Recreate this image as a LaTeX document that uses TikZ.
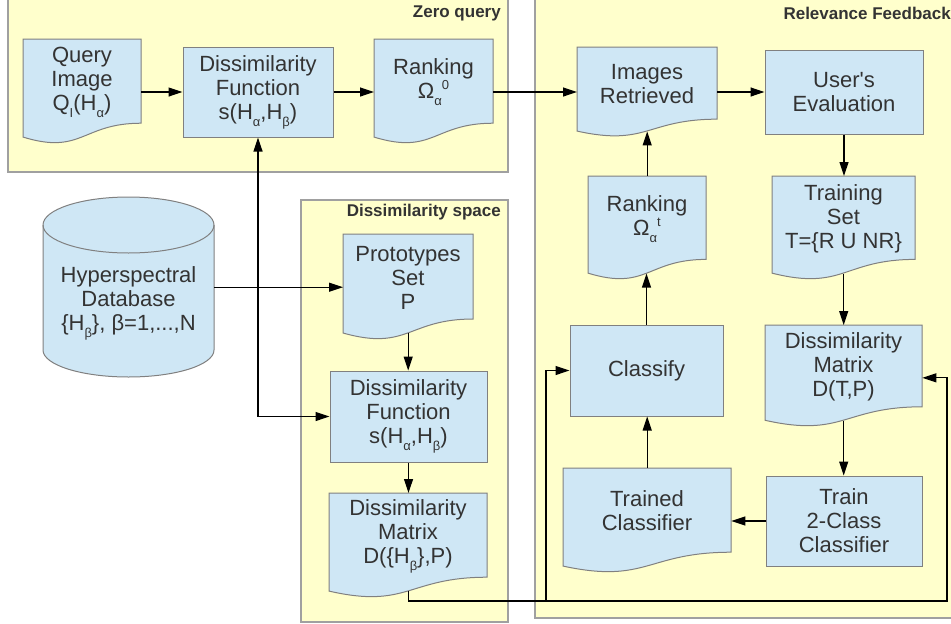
\documentclass[tikz,border=0pt]{standalone}
\usepackage{fontspec}
\setmainfont{Liberation Sans}
\usetikzlibrary{arrows.meta,calc}
\definecolor{panelfill}{HTML}{FFFFCC}
\definecolor{panelline}{HTML}{A0A0A0}
\definecolor{boxfill}{HTML}{CFE7F5}
\definecolor{boxline}{HTML}{808080}
\definecolor{txtc}{HTML}{333333}
\newcommand\lo[1]{\raisebox{-7pt}{\fontsize{13}{13}\selectfont #1}}
\newcommand\hi[1]{\raisebox{9pt}{\fontsize{13}{13}\selectfont #1}}
\tikzset{
  panel/.style={fill=panelfill, draw=panelline, line width=1.2pt},
  boxshape/.style={fill=boxfill, draw=boxline, line width=1pt},
  procbox/.style={boxshape, rectangle, inner sep=0pt, text=txtc, align=center, font=\fontsize{22}{24}\selectfont},
  lbl/.style={text=txtc, align=center, font=\fontsize{22}{24}\selectfont, inner sep=0pt},
  ttl/.style={text=txtc, font=\bfseries\fontsize{17}{20}\selectfont, inner sep=0pt},
  hold/.style={rectangle, draw=none, inner sep=0pt, anchor=north west},
  arr/.style={draw=black, line width=1.2pt, -{Triangle[length=14pt,width=9pt]}},
  wire/.style={draw=black, line width=1.2pt},
}
% #1 name, #2 left, #3 top, #4 width, #5 height, #6 text
\newcommand\docnode[6]{%
  \path[boxshape] (#2,#3) -- ({#2+#4},#3) -- ({#2+#4},{#3+0.802*#5})
    .. controls ({#2+0.5*#4},{#3+0.802*#5}) and ({#2+0.5*#4},{#3+1.107*#5}) .. (#2,{#3+0.934*#5}) -- cycle;
  \node[hold, minimum width={#4pt}, minimum height={0.934*#5pt}] (#1) at (#2,#3) {};
  \node[lbl] (#1-t) at ({#2+0.5*#4},{#3+0.401*#5+1}) {#6};
}
\begin{document}
\begin{tikzpicture}[x=1pt, y=-1pt]
\useasboundingbox (0,0) rectangle (951,624);
\clip (0,0) rectangle (951,624);

% panels
\path[panel] (8,-5) rectangle (508,172);
\path[panel] (535,-5) rectangle (962,618);
\path[panel] (301,200) rectangle (508,622);
\node[ttl, anchor=east] (tZQ) at (501,13) {Zero query};
\node[ttl, anchor=east] (tRF) at (951,13) {Relevance Feedback};
\node[ttl, anchor=east] (tDS) at (501,212) {Dissimilarity space};

% zero query
\docnode{QI}{23}{39}{118}{105}{Query\\Image\\Q\lo{I}(H\lo{α})}
\node[procbox, minimum width=150pt, minimum height=90pt] (DF1) at (258,92) {Dissimilarity\\Function\\s(H\lo{α},H\lo{β})};
\docnode{RK0}{374}{39}{119}{105}{Ranking\\Ω\lo{α}\hi{0}}

% database
\path[boxshape] (43,225) -- (43,350) arc[start angle=180, end angle=360, x radius=85.5pt, y radius=27pt]
  -- (214,225) arc[start angle=0, end angle=180, x radius=85.5pt, y radius=28pt] -- cycle;
\draw[boxline, line width=1pt] (43,225) arc[start angle=180, end angle=360, x radius=85.5pt, y radius=28pt];
\node[hold, minimum width=171pt, minimum height=180pt] (db) at (43,197) {};
\node[lbl] (db-t) at (128.5,303) {Hyperspectral\\Database\\\{H\lo{β}\}, β=1,...,N};

% dissimilarity space
\docnode{PS}{343}{234}{130}{106}{Prototypes\\Set\\P}
\node[procbox, minimum width=157pt, minimum height=91pt] (DF2) at (408.5,416.5) {Dissimilarity\\Function\\s(H\lo{α},H\lo{β})};
\docnode{DM}{329}{493}{158}{105}{Dissimilarity\\Matrix\\D(\{H\lo{β}\},P)}

% relevance feedback
\docnode{IR}{577}{47}{140}{90}{Images\\Retrieved}
\node[procbox, minimum width=158pt, minimum height=84pt] (UE) at (844,92) {User\textquotesingle s\\Evaluation};
\docnode{RKt}{588}{176}{118}{104}{Ranking\\Ω\lo{α}\hi{t}}
\docnode{TS}{772}{176}{143}{104}{Training\\Set\\T=\{R U NR\}}
\node[procbox, minimum width=153pt, minimum height=91pt] (CL) at (646.5,370.5) {\raisebox{-3pt}{Classify}};
\docnode{DTP}{765}{325}{157}{102}{Dissimilarity\\Matrix\\D(T,P)}
\docnode{TC}{563}{468}{168}{105}{Trained\\Classifier}
\node[procbox, minimum width=156pt, minimum height=90pt] (TR) at (844,521) {Train\\2-Class\\Classifier};

% connectors
\draw[arr] (QI.east |- DF1.west) -- (DF1.west);
\draw[arr] (DF1.east) -- (DF1.east -| RK0.west);
\draw[arr] (RK0.east |- DF1.east) -- (IR.west |- DF1.east);
\draw[arr] (IR.east |- UE.west) -- (UE.west);
\draw[arr] (UE.south) -- (UE.south |- TS.north);
\draw[arr] (TS.south) -- (TS.south |- DTP.north);
\draw[arr] (DTP.south) -- (DTP.south |- TR.north);
\draw[arr] (TR.west) -- (TR.west -| TC.east);
\draw[arr] (TC.north) -- (TC.north |- CL.south);
\draw[arr] (CL.north) -- (CL.north |- RKt.south);
\draw[arr] (RKt.north) -- (RKt.north |- IR.south);

\coordinate (J) at (DF1.south |- db.east);
\draw[arr] (db.east) -- (db.east -| PS.west);
\draw[arr] (J) -- (DF1.south);
\draw[arr] (J) |- (DF2.west);
\draw[arr] (PS.south) -- (PS.south |- DF2.north);
\draw[arr] (DF2.south) -- (DF2.south |- DM.north);

\coordinate (busL) at (546,601);
\coordinate (busR) at (947,601);
\draw[arr] (DM.south) |- (busL) |- (CL.west);
\draw[arr] (DM.south) |- (busR) |- ([yshift=-5pt]DTP.east);
\end{tikzpicture}
\end{document}
